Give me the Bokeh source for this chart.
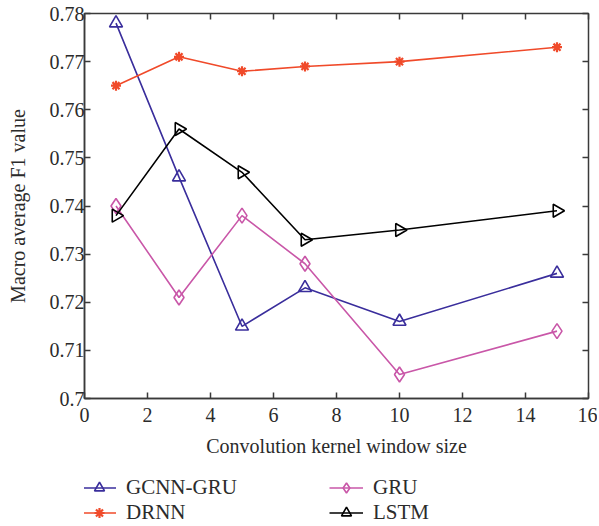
import math
from bokeh.plotting import figure
from bokeh.layouts import column
from bokeh.models import LinearAxis, Legend, LegendItem, Range1d, FixedTicker
from bokeh.embed import file_html
from bokeh.resources import INLINE

window_sizes = [1, 3, 5, 7, 10, 15]
gcnn_gru = [0.778, 0.746, 0.715, 0.723, 0.716, 0.726]
drnn = [0.765, 0.771, 0.768, 0.769, 0.770, 0.773]
gru = [0.740, 0.721, 0.738, 0.728, 0.705, 0.714]
lstm = [0.738, 0.756, 0.747, 0.733, 0.735, 0.739]

x_ticks = [0, 2, 4, 6, 8, 10, 12, 14, 16]
y_ticks = [0.70, 0.71, 0.72, 0.73, 0.74, 0.75, 0.76, 0.77, 0.78]
y_tick_labels = {0.70: "0.7", 0.71: "0.71", 0.72: "0.72", 0.73: "0.73", 0.74: "0.74",
                 0.75: "0.75", 0.76: "0.76", 0.77: "0.77", 0.78: "0.78"}

series = [
    ("GCNN-GRU", gcnn_gru, "#3a2e9c", "triangle", 13, 0.0),
    ("DRNN", drnn, "#f04a2a", "asterisk", 10, 0.0),
    ("GRU", gru, "#c957a8", "diamond", 15, 0.0),
    ("LSTM", lstm, "#000000", "triangle", 13, -math.pi / 2),
]

FONT = "Liberation Serif"
TXT = "#2b2b2b"
AX = "#3a3a3a"

p = figure(width=597, height=459, output_backend="svg", toolbar_location=None,
           x_range=Range1d(0, 16), y_range=Range1d(0.70, 0.78),
           min_border_left=84, min_border_right=9, min_border_top=13, min_border_bottom=61)
p.grid.visible = False
p.outline_line_color = AX
p.outline_line_width = 1.5
p.background_fill_color = "white"
p.border_fill_color = "white"

for ax in [p.xaxis[0], p.yaxis[0]]:
    ax.major_tick_in = 6
    ax.major_tick_out = 0
    ax.minor_tick_in = 0
    ax.minor_tick_out = 0
    ax.axis_line_color = AX
    ax.axis_line_width = 1.5
    ax.major_tick_line_color = AX
    ax.major_tick_line_width = 1.5
    ax.major_label_text_font = FONT
    ax.major_label_text_font_size = "20px"
    ax.major_label_text_color = TXT
    ax.axis_label_text_font = FONT
    ax.axis_label_text_font_size = "20px"
    ax.axis_label_text_font_style = "normal"
    ax.axis_label_text_color = TXT

p.xaxis[0].ticker = FixedTicker(ticks=x_ticks)
p.yaxis[0].ticker = FixedTicker(ticks=y_ticks)
p.yaxis[0].major_label_overrides = y_tick_labels
p.xaxis[0].axis_label = "Convolution kernel window size"
p.yaxis[0].axis_label = "Macro average F1 value"
p.xaxis[0].major_label_standoff = 9
p.yaxis[0].major_label_standoff = 0
p.xaxis[0].axis_label_standoff = 10
p.yaxis[0].axis_label_standoff = 18

top = LinearAxis(ticker=FixedTicker(ticks=x_ticks),
                 major_label_overrides={t: "" for t in x_ticks},
                 major_tick_in=6, major_tick_out=0, minor_tick_in=0, minor_tick_out=0,
                 axis_line_color=AX, major_tick_line_color=AX, major_tick_line_width=1.5,
                 major_label_standoff=0)
right = LinearAxis(ticker=FixedTicker(ticks=y_ticks),
                   major_label_overrides={t: "" for t in y_ticks},
                   major_tick_in=6, major_tick_out=0, minor_tick_in=0, minor_tick_out=0,
                   axis_line_color=AX, major_tick_line_color=AX, major_tick_line_width=1.5,
                   major_label_standoff=0)
p.add_layout(top, "above")
p.add_layout(right, "right")

for name, vals, color, marker, size, angle in series:
    p.line(window_sizes, vals, line_color=color, line_width=1.6)
    if marker == "asterisk":
        p.scatter(window_sizes, vals, marker=marker, size=size, line_color=color, line_width=2.2)
    else:
        p.scatter(window_sizes, vals, marker=marker, size=size, angle=angle, line_color=color,
                  fill_color="white", fill_alpha=0, line_width=1.6)

# Legend figure: same series drawn outside its visible range, so only the legend shows
lf = figure(width=597, height=67, output_backend="svg", toolbar_location=None,
            x_range=Range1d(100, 101), y_range=Range1d(100, 101),
            x_axis_type=None, y_axis_type=None,
            min_border_left=0, min_border_right=0, min_border_top=0, min_border_bottom=0)
lf.grid.visible = False
lf.outline_line_color = None

items = {}
for name, vals, color, marker, size, angle in series:
    r1 = lf.line(window_sizes, vals, line_color=color, line_width=1.6)
    if marker == "asterisk":
        r2 = lf.scatter(window_sizes, vals, marker=marker, size=size, line_color=color, line_width=2.2)
    else:
        r2 = lf.scatter(window_sizes, vals, marker=marker, size=size, angle=angle, line_color=color,
                        fill_color="white", fill_alpha=0, line_width=1.6)
    items[name] = LegendItem(label=name, renderers=[r1, r2])

legend = Legend(items=[items["GCNN-GRU"], items["GRU"], items["DRNN"], items["LSTM"]],
                ncols=2, location=(-2, 1), orientation="horizontal")
legend.label_text_font = FONT
legend.label_text_font_size = "21px"
legend.label_text_color = TXT
legend.glyph_width = 34
legend.glyph_height = 25
legend.label_height = 25
legend.label_width = 203
legend.label_standoff = 10
legend.spacing = 0
legend.padding = 0
legend.margin = 0
legend.border_line_color = None
legend.background_fill_alpha = 0
lf.add_layout(legend, "center")

open("out.html", "w").write(file_html(column(p, lf, spacing=0), INLINE))
